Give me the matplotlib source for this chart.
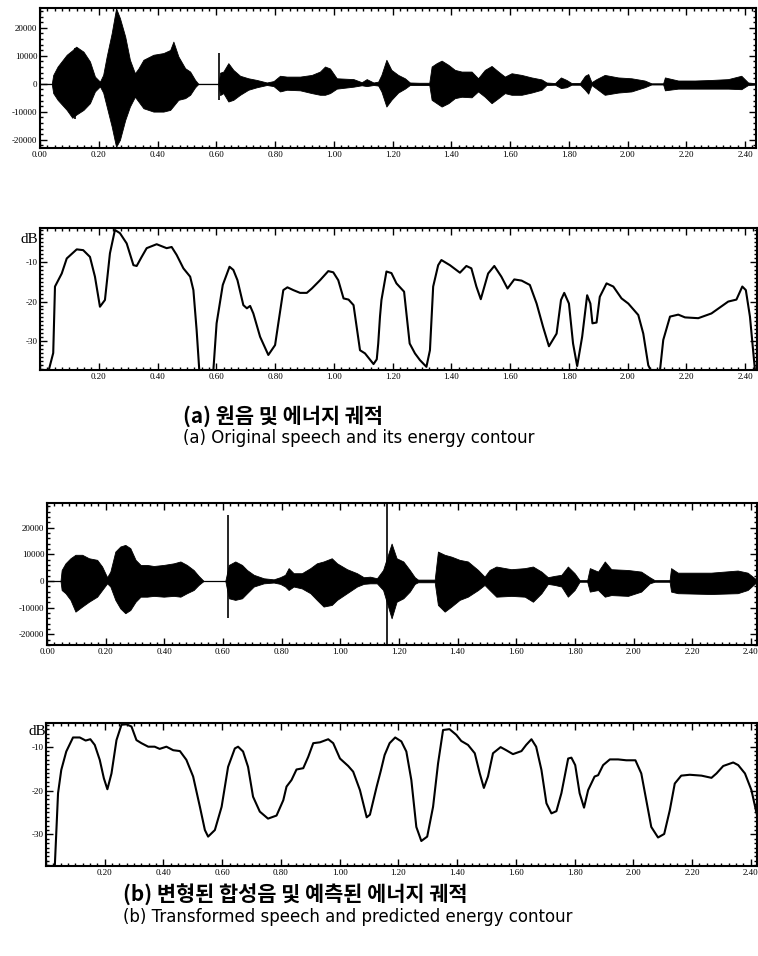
import numpy as np
import matplotlib
matplotlib.use("Agg")
import matplotlib.pyplot as plt
from matplotlib.ticker import MultipleLocator, FixedLocator, FixedFormatter

plt.rcParams['axes.unicode_minus'] = False

# ---------------- data ----------------
# waveform envelopes (time s, upper k, lower k)
WAVE_A = np.array([
    [0.000, 0, 0], [0.040, 0, 0], [0.045, 3.2, -3.3], [0.060, 6.2, -5.7], [0.091, 10.4, -9.3],
    [0.110, 12.0, -12.1], [0.123, 13.3, -11.0], [0.148, 11.5, -9.3], [0.170, 8.0, -6.9],
    [0.187, 2.6, -2.7], [0.204, 0.8, -0.9], [0.215, 3.2, -3.1], [0.227, 9.8, -8.1],
    [0.244, 18.1, -15.2], [0.259, 27.0, -22.5], [0.272, 23.5, -20.0], [0.290, 16.9, -12.9],
    [0.306, 8.6, -8.1], [0.323, 3.8, -4.6], [0.335, 5.5, -6.3], [0.352, 8.6, -8.7],
    [0.386, 10.4, -9.9], [0.420, 11.0, -9.9], [0.443, 12.1, -9.3], [0.454, 15.1, -7.9],
    [0.471, 9.8, -5.7], [0.494, 5.6, -5.1], [0.511, 4.4, -3.9], [0.528, 1.4, -1.2],
    [0.539, 0, 0], [0.607, 0, 0], [0.613, 4.0, -4.0], [0.624, 4.4, -3.3], [0.641, 7.4, -6.3],
    [0.658, 5.0, -5.7], [0.681, 2.9, -3.9], [0.709, 2.0, -2.1], [0.738, 1.4, -1.2],
    [0.772, 0.5, -0.4], [0.795, 1.0, -0.8], [0.817, 2.9, -2.7], [0.840, 2.6, -2.1],
    [0.885, 2.6, -2.3], [0.925, 3.2, -3.3], [0.953, 4.4, -3.9], [0.970, 6.2, -3.9],
    [0.987, 5.5, -3.3], [1.010, 2.0, -1.7], [1.067, 1.7, -1.0], [1.095, 0.6, -0.5],
    [1.112, 1.7, -0.8], [1.135, 0.5, -0.4], [1.151, 0.8, -0.6], [1.162, 3.2, -2.7],
    [1.179, 8.6, -8.1], [1.196, 5.0, -5.7], [1.219, 3.2, -3.1], [1.242, 2.0, -1.7],
    [1.259, 0.5, -0.4], [1.290, 0.4, -0.4], [1.325, 0.4, -0.4], [1.333, 6.2, -5.7],
    [1.350, 7.4, -6.9], [1.367, 8.3, -8.1], [1.390, 6.8, -6.9], [1.412, 5.0, -5.1],
    [1.435, 4.4, -4.6], [1.469, 4.4, -4.8], [1.491, 2.0, -2.7], [1.514, 5.0, -4.6],
    [1.537, 6.4, -6.9], [1.560, 4.4, -5.1], [1.582, 2.6, -3.3], [1.605, 3.8, -3.9],
    [1.639, 3.2, -3.9], [1.673, 2.3, -3.1], [1.707, 1.6, -2.1], [1.724, 0.5, -0.4],
    [1.753, 0.3, -0.3], [1.773, 2.3, -1.5], [1.792, 1.4, -1.2], [1.809, 0.3, -0.3],
    [1.838, 0.3, -0.3], [1.855, 2.9, -2.1], [1.866, 3.5, -3.5], [1.877, 0.6, -0.4],
    [1.894, 1.7, -1.7], [1.922, 3.2, -3.9], [1.968, 2.3, -3.1], [2.013, 2.0, -2.7],
    [2.058, 1.2, -1.2], [2.081, 0.2, -0.2], [2.121, 0.2, -0.2], [2.127, 2.3, -2.3],
    [2.172, 1.2, -1.7], [2.229, 1.2, -1.7], [2.285, 1.4, -1.7], [2.342, 1.7, -1.7],
    [2.387, 2.9, -1.9], [2.410, 0.5, -0.4], [2.437, 0.2, -0.2],
])
SPIKE_A_T = [0.118, 0.610]
SPIKE_A_HI = [12.8, 11.2]
SPIKE_A_LO = [-12.5, -5.7]

WAVE_B = np.array([
    [0.000, 0, 0], [0.046, 0, 0], [0.050, 4.1, -3.4], [0.063, 6.6, -4.6], [0.080, 8.5, -7.1],
    [0.097, 9.8, -11.5], [0.120, 9.8, -9.6], [0.143, 8.5, -7.8], [0.171, 7.9, -5.9],
    [0.188, 5.4, -3.4], [0.205, 1.4, -0.9], [0.216, 3.5, -2.1], [0.233, 11.0, -7.1],
    [0.250, 12.9, -10.3], [0.267, 13.5, -12.1], [0.284, 12.3, -10.9], [0.302, 7.9, -7.8],
    [0.319, 6.0, -5.9], [0.341, 6.0, -5.9], [0.364, 5.6, -5.6], [0.398, 6.0, -5.9],
    [0.432, 6.6, -5.6], [0.455, 7.3, -5.9], [0.477, 6.0, -4.6], [0.500, 4.1, -3.4],
    [0.517, 1.9, -1.5], [0.534, 0, 0], [0.608, 0, 0], [0.620, 6.0, -6.5], [0.642, 7.3, -7.1],
    [0.665, 6.0, -6.5], [0.682, 4.1, -4.6], [0.705, 2.3, -2.1], [0.739, 1.0, -0.9],
    [0.773, 0.6, -0.6], [0.795, 1.4, -1.1], [0.812, 2.3, -2.1], [0.824, 4.8, -3.4],
    [0.841, 2.9, -2.1], [0.869, 2.9, -2.8], [0.898, 4.8, -4.6], [0.920, 6.6, -7.1],
    [0.943, 7.3, -9.6], [0.971, 8.5, -9.0], [0.989, 6.6, -7.1], [1.023, 4.4, -4.6],
    [1.057, 2.9, -2.1], [1.080, 1.4, -1.1], [1.102, 1.6, -0.9], [1.125, 1.0, -0.9],
    [1.146, 4.1, -3.4], [1.175, 14.0, -14.0], [1.192, 8.5, -7.8], [1.215, 7.3, -6.5],
    [1.237, 4.1, -4.0], [1.254, 1.4, -1.1], [1.265, 0.5, -0.5], [1.322, 0.5, -0.5],
    [1.333, 11.0, -9.0], [1.356, 9.8, -11.5], [1.379, 9.1, -9.6], [1.407, 7.9, -7.1],
    [1.435, 7.3, -5.9], [1.470, 4.1, -3.4], [1.492, 1.6, -1.5], [1.509, 4.1, -3.4],
    [1.532, 5.4, -5.9], [1.583, 4.4, -5.6], [1.629, 4.8, -5.9], [1.657, 5.4, -7.8],
    [1.686, 3.5, -4.6], [1.708, 1.4, -1.1], [1.731, 1.9, -1.5], [1.754, 2.3, -2.1],
    [1.776, 5.4, -5.9], [1.799, 2.9, -3.4], [1.816, 0.3, -0.3], [1.842, 0.3, -0.3],
    [1.851, 4.8, -4.0], [1.879, 3.5, -3.4], [1.902, 7.3, -5.9], [1.924, 4.4, -5.3],
    [1.981, 4.1, -5.6], [2.026, 3.5, -4.0], [2.055, 1.4, -0.9], [2.072, 0.3, -0.3],
    [2.123, 0.3, -0.3], [2.128, 4.8, -4.0], [2.151, 3.1, -4.6], [2.264, 3.1, -4.9],
    [2.355, 3.9, -4.6], [2.389, 3.1, -3.4], [2.418, 0.6, -0.6], [2.421, 0.3, -0.3],
])
SPIKE_B_T = [0.617, 1.161]
SPIKE_B_HI = [24.8, 30.0]
SPIKE_B_LO = [-14.0, -25.0]

# energy contours (time s, dB)
ENERGY_A = np.array([
    [0.000, -37.3], [0.030, -37.3], [0.045, -33.0], [0.051, -16.2], [0.074, -12.9],
    [0.091, -9.1], [0.125, -6.8], [0.147, -7.0], [0.170, -8.7], [0.187, -13.7],
    [0.204, -21.3], [0.221, -19.6], [0.238, -7.8], [0.255, -1.9], [0.272, -2.7],
    [0.295, -5.3], [0.318, -10.8], [0.329, -11.0], [0.346, -8.7], [0.363, -6.5],
    [0.397, -5.5], [0.431, -6.5], [0.448, -6.2], [0.465, -8.2], [0.488, -11.6],
    [0.511, -13.7], [0.522, -17.1], [0.533, -27.2], [0.542, -37.3], [0.590, -37.3],
    [0.601, -25.5], [0.622, -15.8], [0.645, -11.2], [0.658, -12.0], [0.672, -14.6],
    [0.692, -20.9], [0.704, -21.7], [0.715, -21.1], [0.726, -23.0], [0.749, -28.9],
    [0.777, -33.5], [0.800, -31.0], [0.811, -25.5], [0.828, -17.1], [0.842, -16.4],
    [0.862, -17.1], [0.885, -17.8], [0.908, -17.8], [0.925, -16.7], [0.953, -14.6],
    [0.981, -12.3], [0.998, -12.6], [1.015, -14.6], [1.033, -19.2], [1.050, -19.5],
    [1.067, -20.9], [1.089, -32.3], [1.106, -33.1], [1.135, -35.8], [1.146, -34.6],
    [1.151, -30.6], [1.157, -23.8], [1.162, -19.6], [1.179, -12.4], [1.196, -12.8],
    [1.213, -15.4], [1.239, -17.5], [1.258, -30.6], [1.276, -33.1], [1.293, -34.8],
    [1.315, -36.5], [1.327, -32.3], [1.338, -16.2], [1.355, -10.8], [1.366, -9.5],
    [1.395, -10.8], [1.429, -12.7], [1.451, -11.0], [1.468, -11.6], [1.485, -16.2],
    [1.500, -19.4], [1.525, -12.9], [1.546, -11.0], [1.570, -13.7], [1.591, -16.7],
    [1.614, -14.4], [1.639, -14.7], [1.667, -15.8], [1.690, -20.5], [1.712, -26.4],
    [1.732, -31.3], [1.758, -28.1], [1.773, -19.6], [1.784, -17.8], [1.800, -20.5],
    [1.814, -30.6], [1.828, -36.3], [1.845, -28.9], [1.862, -18.4], [1.873, -20.5],
    [1.880, -25.5], [1.894, -25.3], [1.905, -18.8], [1.928, -15.4], [1.951, -16.2],
    [1.979, -19.2], [2.002, -20.5], [2.036, -23.4], [2.053, -28.1], [2.070, -36.1],
    [2.078, -37.3], [2.110, -37.3], [2.121, -29.7], [2.144, -23.8], [2.172, -23.3],
    [2.195, -24.0], [2.240, -24.2], [2.285, -23.0], [2.342, -20.0], [2.370, -19.5],
    [2.390, -16.2], [2.402, -17.1], [2.416, -23.8], [2.433, -37.3],
])

ENERGY_B = np.array([
    [0.000, -37.2], [0.030, -37.2], [0.041, -20.6], [0.052, -15.3], [0.069, -11.1],
    [0.092, -7.9], [0.115, -7.9], [0.135, -8.6], [0.151, -8.3], [0.166, -9.6],
    [0.183, -13.0], [0.197, -17.2], [0.209, -19.7], [0.223, -16.1], [0.240, -8.5],
    [0.257, -5.0], [0.274, -4.9], [0.291, -5.4], [0.308, -8.5], [0.325, -9.2],
    [0.348, -10.0], [0.370, -10.0], [0.387, -10.5], [0.410, -10.0], [0.433, -10.8],
    [0.456, -11.0], [0.478, -13.0], [0.501, -16.8], [0.524, -23.7], [0.541, -29.0],
    [0.552, -30.5], [0.575, -29.0], [0.598, -23.7], [0.620, -14.6], [0.643, -10.4],
    [0.654, -10.0], [0.671, -11.1], [0.688, -14.6], [0.705, -21.4], [0.728, -24.8],
    [0.756, -26.4], [0.785, -25.7], [0.808, -22.2], [0.819, -19.1], [0.836, -17.6],
    [0.853, -15.2], [0.876, -14.9], [0.893, -12.3], [0.910, -9.2], [0.933, -9.0],
    [0.961, -8.3], [0.978, -9.2], [1.001, -12.7], [1.029, -14.4], [1.046, -15.7],
    [1.069, -19.9], [1.092, -26.1], [1.103, -25.5], [1.126, -19.1], [1.140, -15.5],
    [1.153, -11.9], [1.170, -9.2], [1.189, -7.9], [1.210, -8.8], [1.227, -11.1],
    [1.244, -17.6], [1.261, -28.3], [1.278, -31.5], [1.298, -30.5], [1.318, -23.7],
    [1.335, -13.8], [1.352, -6.2], [1.374, -6.0], [1.397, -7.3], [1.414, -8.7],
    [1.437, -9.6], [1.460, -11.5], [1.477, -16.1], [1.491, -19.4], [1.505, -16.8],
    [1.522, -11.5], [1.548, -10.1], [1.567, -10.8], [1.590, -11.7], [1.619, -11.0],
    [1.635, -9.6], [1.653, -8.3], [1.669, -10.0], [1.687, -15.3], [1.704, -22.9],
    [1.721, -25.2], [1.738, -24.7], [1.755, -20.6], [1.778, -12.7], [1.789, -12.5],
    [1.802, -14.2], [1.817, -20.6], [1.832, -23.9], [1.846, -19.9], [1.868, -16.8],
    [1.880, -16.5], [1.897, -14.2], [1.920, -12.9], [1.948, -12.9], [1.976, -13.1],
    [2.007, -13.1], [2.027, -16.1], [2.044, -22.2], [2.061, -28.3], [2.084, -30.7],
    [2.105, -29.9], [2.124, -24.5], [2.141, -18.4], [2.163, -16.6], [2.192, -16.4],
    [2.232, -16.6], [2.266, -17.1], [2.283, -16.1], [2.306, -14.4], [2.340, -13.6],
    [2.357, -14.2], [2.380, -16.1], [2.402, -19.9], [2.421, -25.6],
])

X_TICKS = [0.0, 0.2, 0.4, 0.6, 0.8, 1.0, 1.2, 1.4, 1.6, 1.8, 2.0, 2.2, 2.4]
X_LABELS = ["0.00", "0.20", "0.40", "0.60", "0.80", "1.00", "1.20", "1.40", "1.60",
            "1.80", "2.00", "2.20", "2.40"]
WAVE_Y_TICKS = [20000, 10000, 0, -10000, -20000]
WAVE_Y_LABELS = ["20000", "10000", "0", "-10000", "-20000"]
DB_Y_TICKS = [-10, -20, -30]
DB_Y_LABELS = ["-10", "-20", "-30"]

CAP_A = ["(a) 원음 및 에너지 궤적", "(a) Original speech and its energy contour"]
CAP_B = ["(b) 변형된 합성음 및 예측된 에너지 궤적", "(b) Transformed speech and predicted energy contour"]

# ---------------- figure ----------------
W, H = 758, 956
fig = plt.figure(figsize=(W / 100, H / 100), dpi=100)


def add_ax(left, right, top, bottom):
    return fig.add_axes([left / W, 1 - bottom / H, (right - left) / W, (bottom - top) / H])


TICKFONT = dict(family="Liberation Serif", size=6.5)


def style(ax, xlim, ylim, yticks, ylabels, xlabels_show_zero, ymin_step):
    ax.set_xlim(*xlim)
    ax.set_ylim(*ylim)
    ax.xaxis.set_major_locator(FixedLocator(X_TICKS))
    labels = list(X_LABELS)
    if not xlabels_show_zero:
        labels[0] = ""
    ax.xaxis.set_major_formatter(FixedFormatter(labels))
    ax.xaxis.set_minor_locator(MultipleLocator(0.025))
    ax.yaxis.set_major_locator(FixedLocator(yticks))
    ax.yaxis.set_major_formatter(FixedFormatter(ylabels))
    ax.yaxis.set_minor_locator(MultipleLocator(ymin_step))
    ax.tick_params(which="both", direction="in", top=True, right=True, width=1.0,
                   colors="black", pad=2)
    ax.tick_params(which="major", length=5)
    ax.tick_params(which="minor", length=2.5)
    for lab in ax.get_xticklabels() + ax.get_yticklabels():
        lab.set_fontfamily(TICKFONT["family"])
        lab.set_fontsize(TICKFONT["size"])
    for s in ax.spines.values():
        s.set_linewidth(1.5)
        s.set_color("black")


def draw_wave(ax, wave, st, shi, slo):
    t = wave[:, 0]
    ax.fill_between(t, wave[:, 2] * 1000, wave[:, 1] * 1000, color="black", lw=0.6,
                    edgecolor="black")
    ax.axhline(0, color="black", lw=0.9)
    ax.vlines(st, np.array(slo) * 1000, np.array(shi) * 1000, color="black", lw=1.2)


# (a) waveform
ax1 = add_ax(40, 756, 8, 148)
draw_wave(ax1, WAVE_A, SPIKE_A_T, SPIKE_A_HI, SPIKE_A_LO)
style(ax1, (0, 2.437), (-22900, 27100), WAVE_Y_TICKS, WAVE_Y_LABELS, True, 2000)

# (a) energy
ax2 = add_ax(40, 757, 228, 370)
ax2.plot(ENERGY_A[:, 0], ENERGY_A[:, 1], color="black", lw=1.5)
style(ax2, (0, 2.44), (-37.3, -1.4), DB_Y_TICKS, DB_Y_LABELS, False, 1)
ax2.text(-0.003, 0.92, "dB", transform=ax2.transAxes, ha="right", va="center",
         family="Liberation Serif", fontsize=11)

# (b) waveform
ax3 = add_ax(47, 757, 503, 645)
draw_wave(ax3, WAVE_B, SPIKE_B_T, SPIKE_B_HI, SPIKE_B_LO)
style(ax3, (0, 2.421), (-24000, 29200), WAVE_Y_TICKS, WAVE_Y_LABELS, True, 2000)

# (b) energy
ax4 = add_ax(46, 757, 723, 866)
ax4.plot(ENERGY_B[:, 0], ENERGY_B[:, 1], color="black", lw=1.5)
style(ax4, (0, 2.421), (-37.2, -4.6), DB_Y_TICKS, DB_Y_LABELS, False, 1)
ax4.text(0.0, 0.94, "dB", transform=ax4.transAxes, ha="right", va="center",
         family="Liberation Serif", fontsize=11)

# captions
korfont = ["Noto Sans CJK KR", "DejaVu Sans"]
engfont = ["DejaVu Sans"]
fig.text(183 / W, 1 - 416 / H, CAP_A[0], family=korfont, fontsize=15, fontweight="bold",
         ha="left", va="center")
fig.text(183 / W, 1 - 438 / H, CAP_A[1], family=engfont, fontsize=12,
         ha="left", va="center")
fig.text(123 / W, 1 - 895 / H, CAP_B[0], family=korfont, fontsize=15, fontweight="bold",
         ha="left", va="center")
fig.text(123 / W, 1 - 917 / H, CAP_B[1], family=engfont, fontsize=12,
         ha="left", va="center")

fig.savefig("out.png", dpi=100)
